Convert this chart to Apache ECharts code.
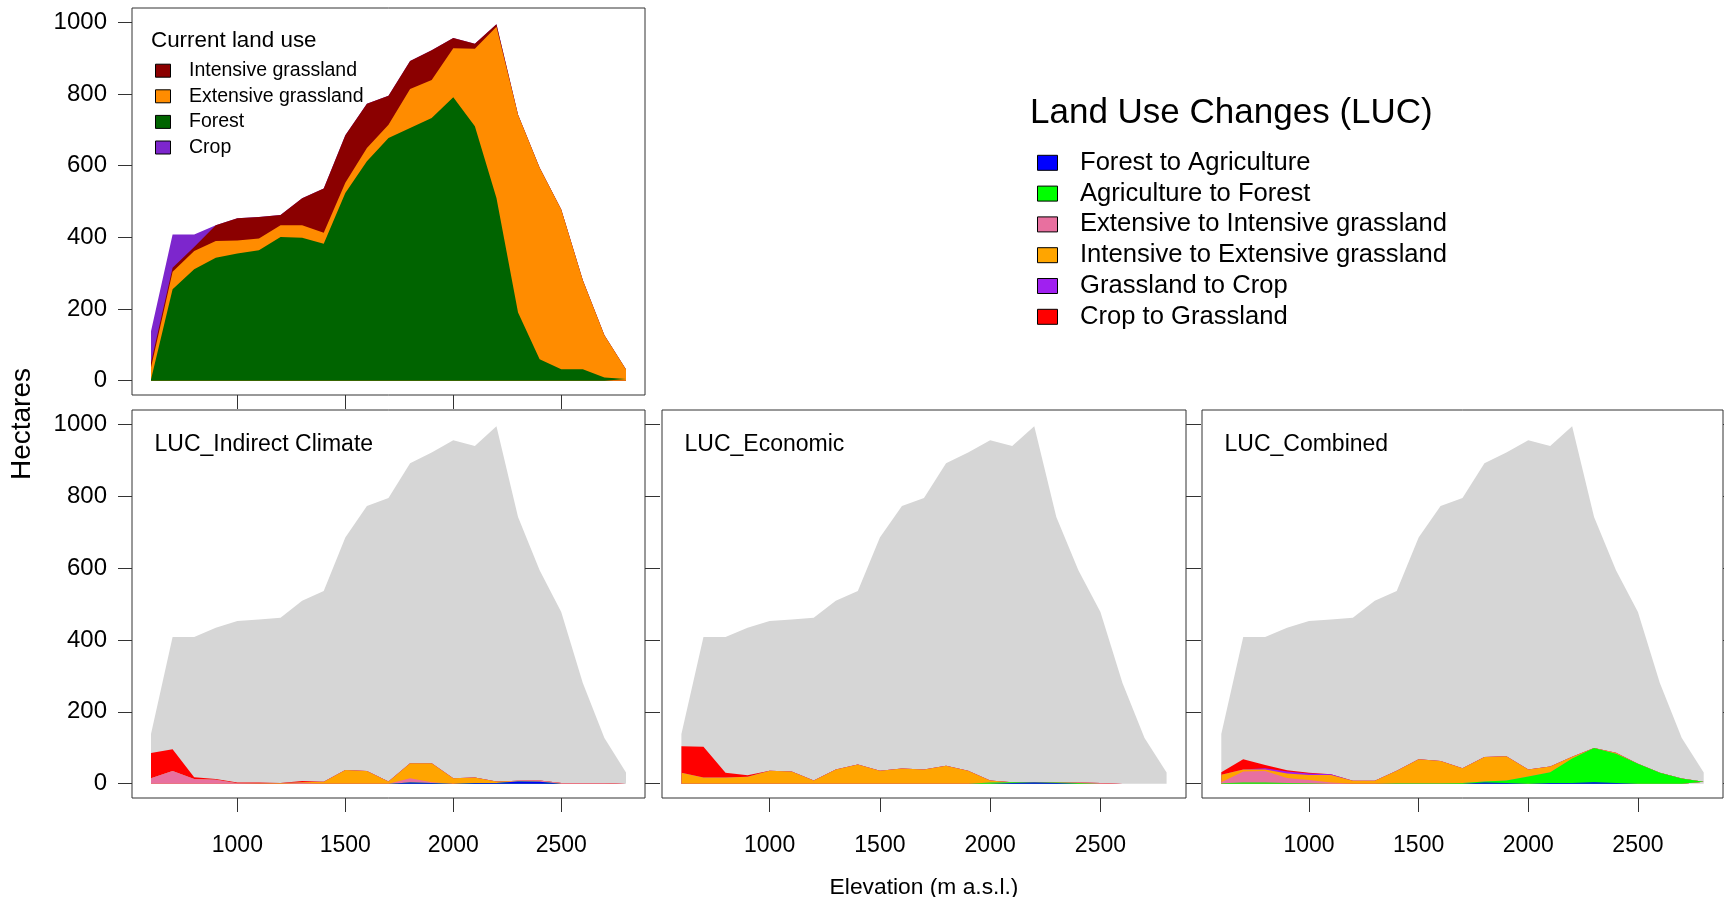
<!DOCTYPE html>
<html>
<head>
<meta charset="utf-8">
<script src="https://cdn.jsdelivr.net/npm/echarts@6/dist/echarts.min.js"></script>
<style>
  html, body { margin: 0; padding: 0; background: #ffffff; }
  #chart { width: 1724px; height: 897px; }
</style>
</head>
<body>
<div id="chart"></div>
<script>
// ---- data (hectares per 100 m elevation band) ----
const elevation = [600, 700, 800, 900, 1000, 1100, 1200, 1300, 1400, 1500, 1600, 1700,
                   1800, 1900, 2000, 2100, 2200, 2300, 2400, 2500, 2600, 2700, 2800];

// current land use, stacked bottom -> top: Forest, Extensive, Intensive, Crop
const forest         = [3, 255, 311, 343, 355, 364, 401, 399, 382, 524, 612, 677, 705, 733, 791, 710, 510, 190, 60, 32, 32, 9, 5];
const extensiveGrass = [34, 49, 51, 47, 36, 33, 33, 35, 31, 28, 37, 37, 109, 106, 137, 216, 478, 552, 534, 446, 248, 118, 26];
const intensiveGrass = [14, 11, 11, 44, 62, 60, 28, 75, 123, 133, 124, 81, 78, 83, 28, 14, 7, 0, 0, 0, 0, 0, 0];
const crop           = [87, 93, 35, 0, 0, 0, 0, 0, 0, 0, 0, 0, 0, 0, 0, 0, 0, 0, 0, 0, 0, 0, 0];

// total area of each band (background of the LUC panels)
const totalArea = [138, 408, 408, 434, 453, 457, 462, 509, 536, 685, 773, 795, 892, 922, 956, 940, 995, 742, 594, 478, 280, 127, 31];

const landUseNames = ['Intensive grassland', 'Extensive grassland', 'Forest', 'Crop'];
const lucNames = ['Forest to Agriculture', 'Agriculture to Forest', 'Extensive to Intensive grassland',
                  'Intensive to Extensive grassland', 'Grassland to Crop', 'Crop to Grassland'];
const panelTitles = ['LUC_Indirect Climate', 'LUC_Economic', 'LUC_Combined'];

// land use changes per scenario, one row per class in lucNames order (stacked in that order)
const lucIndirectClimate = [
  [0, 0, 0, 0, 0, 0, 0, 0, 0, 0, 0, 0, 3, 2, 0, 2, 2, 6, 5, 0, 0, 0, 0],
  [0, 0, 0, 0, 0, 0, 0, 0, 0, 0, 0, 0, 0, 0, 0, 0, 0, 0, 0, 0, 0, 0, 0],
  [15, 35, 13, 11, 1, 0, 0, 2, 0, 0, 0, 0, 12, 2, 0, 0, 0, 2, 4, 2, 2, 2, 0],
  [0, 0, 0, 0, 0, 1, 2, 2, 5, 38, 35, 6, 42, 53, 15, 15, 4, 0, 0, 0, 0, 0, 0],
  [0, 0, 0, 0, 0, 0, 0, 0, 0, 0, 0, 0, 0, 0, 0, 0, 0, 0, 0, 0, 0, 0, 0],
  [70, 61, 5, 2, 2, 2, 0, 3, 0, 0, 0, 0, 0, 0, 0, 0, 0, 0, 0, 0, 0, 0, 0]
];
const lucEconomic = [
  [0, 0, 0, 0, 0, 0, 0, 0, 0, 0, 0, 0, 0, 0, 0, 2, 3, 2, 0, 0, 0, 0, 0],
  [0, 0, 0, 0, 0, 0, 0, 0, 0, 0, 0, 0, 0, 0, 3, 2, 0, 1, 2, 0, 0, 0, 0],
  [0, 0, 0, 0, 0, 0, 0, 0, 0, 0, 0, 0, 0, 0, 0, 0, 0, 0, 1, 2, 0, 0, 0],
  [30, 17, 17, 19, 36, 34, 9, 39, 53, 36, 42, 39, 50, 36, 6, 0, 0, 0, 0, 0, 0, 0, 0],
  [0, 0, 0, 0, 0, 0, 0, 0, 0, 0, 0, 0, 0, 0, 0, 0, 0, 0, 0, 0, 0, 0, 0],
  [74, 86, 13, 4, 0, 0, 0, 0, 0, 0, 0, 0, 0, 0, 0, 0, 0, 0, 0, 0, 0, 0, 0]
];
const lucCombined = [
  [0, 0, 0, 0, 0, 0, 0, 0, 0, 0, 0, 0, 3, 2, 0, 2, 2, 4, 2, 0, 0, 0, 0],
  [1, 3, 3, 2, 1, 0, 0, 0, 1, 1, 1, 2, 3, 7, 20, 30, 68, 95, 81, 55, 30, 14, 5],
  [3, 31, 32, 14, 9, 3, 0, 0, 0, 0, 0, 0, 0, 0, 0, 0, 0, 0, 0, 0, 0, 0, 0],
  [21, 5, 4, 12, 14, 21, 8, 8, 35, 67, 62, 41, 68, 67, 19, 16, 5, 0, 3, 0, 0, 0, 0],
  [0, 0, 4, 6, 4, 2, 0, 0, 0, 0, 0, 0, 0, 0, 0, 0, 0, 0, 0, 0, 0, 0, 0],
  [7, 29, 9, 3, 2, 0, 0, 0, 0, 0, 0, 0, 0, 0, 0, 0, 0, 0, 0, 0, 0, 0, 0]
];

const xTicks = [1000, 1500, 2000, 2500];
const yTicks = [0, 200, 400, 600, 800, 1000];

// ---- styles ----
const FONT = '"Liberation Sans", Arial, Helvetica, sans-serif';
const landUseColors = { 'Intensive grassland': '#8B0000', 'Extensive grassland': '#FF8C00', 'Forest': '#006400', 'Crop': '#7D26CD' };
const lucColors = ['#0000FF', '#00FF00', '#E8709F', '#FFA500', '#A020F0', '#FF0000'];
const greyFill = '#D6D6D6';
const boxColor = '#333333';

// plot boxes (axes padded by 4% of the data range on each side)
const X_MIN = 512, X_MAX = 2888, Y_MIN = -40, Y_MAX = 1040;
const boxes = [
  { left: 132, top: 8, width: 513, height: 387 },    // current land use
  { left: 132, top: 410, width: 513, height: 388 },  // indirect climate
  { left: 662, top: 410, width: 524, height: 388 },  // economic
  { left: 1202, top: 410, width: 521, height: 388 }  // combined
];

const pairs = vals => elevation.map((e, i) => [e, vals[i]]);

// running totals: layer k's upper edge = sum of layers 0..k
function cumulate(layers) {
  const out = [];
  let run = elevation.map(() => 0);
  layers.forEach(vals => { run = run.map((r, i) => r + vals[i]); out.push(run); });
  return out;
}

function areaSeries(name, vals, color, gridIdx, yIdx) {
  return {
    name, type: 'line', xAxisIndex: gridIdx, yAxisIndex: yIdx,
    data: pairs(vals), symbol: 'none', silent: true, smooth: false,
    lineStyle: { width: 0 }, areaStyle: { color, opacity: 1, origin: 0 }, animation: false
  };
}

const grids = boxes.map(b => Object.assign({
  show: true, borderColor: boxColor, borderWidth: 1, backgroundColor: 'transparent',
  containLabel: false, outerBoundsMode: 'none'
}, b));

const xAxes = boxes.map((b, i) => ({
  gridIndex: i, type: 'value', min: X_MIN, max: X_MAX, position: 'bottom',
  axisLine: { show: false, onZero: false },
  splitLine: { show: false },
  axisTick: { show: true, inside: false, length: 14, customValues: xTicks, lineStyle: { color: boxColor, width: 1 } },
  axisLabel: { show: i > 0, customValues: xTicks, margin: 36, fontSize: 23, color: '#000', fontFamily: FONT, formatter: v => String(v) }
}));

const yAxes = [];
const leftAxisIndex = [];
boxes.forEach((b, i) => {
  if (i < 2) {
    leftAxisIndex[i] = yAxes.length;
    yAxes.push({
      gridIndex: i, type: 'value', min: Y_MIN, max: Y_MAX, position: 'left',
      axisLine: { show: false, onZero: false }, splitLine: { show: false },
      axisTick: { show: true, inside: false, length: 14, customValues: yTicks, lineStyle: { color: boxColor, width: 1 } },
      axisLabel: { show: true, customValues: yTicks, margin: 25, fontSize: 24, color: '#000', fontFamily: FONT, formatter: v => String(v) }
    });
  }
  if (i > 0) {
    if (leftAxisIndex[i] === undefined) leftAxisIndex[i] = yAxes.length;
    yAxes.push({
      gridIndex: i, type: 'value', min: Y_MIN, max: Y_MAX, position: 'right',
      axisLine: { show: false, onZero: false }, splitLine: { show: false },
      axisTick: { show: true, inside: false, length: 15, customValues: yTicks, lineStyle: { color: boxColor, width: 1 } },
      axisLabel: { show: false }
    });
  }
});

const series = [];
// current land use: forest at the bottom, crop on top; upper layers drawn first
{
  const order = ['Forest', 'Extensive grassland', 'Intensive grassland', 'Crop'];
  const tops = cumulate([forest, extensiveGrass, intensiveGrass, crop]);
  for (let k = order.length - 1; k >= 0; k--) {
    series.push(areaSeries(order[k], tops[k], landUseColors[order[k]], 0, leftAxisIndex[0]));
  }
}

// LUC panels: grey total area behind the stacked changes
[lucIndirectClimate, lucEconomic, lucCombined].forEach((rows, p) => {
  const g = p + 1;
  series.push(areaSeries('Total', totalArea, greyFill, g, leftAxisIndex[g]));
  const tops = cumulate(rows);
  for (let k = rows.length - 1; k >= 0; k--) {
    series.push(areaSeries(lucNames[k], tops[k], lucColors[k], g, leftAxisIndex[g]));
  }
});

// ---- text and legends ----
const graphic = [];
const txt = (text, x, y, size, align) => ({
  type: 'text', x, y, silent: true, z: 100,
  style: { text, fontSize: size, fontFamily: FONT, fill: '#000', align: align || 'left', verticalAlign: 'middle' }
});

// current land use legend
graphic.push(txt('Current land use', 151, 41, 22.4));
landUseNames.forEach((name, k) => {
  const cy = 70.7 + k * 25.6;
  graphic.push({ type: 'rect', silent: true, z: 100, shape: { x: 155.5, y: cy - 6.5, width: 15, height: 13 },
    style: { fill: landUseColors[name], stroke: '#000', lineWidth: 1 } });
  graphic.push(txt(name, 189, cy, 19.5));
});

// land use change legend
graphic.push(txt('Land Use Changes (LUC)', 1030, 113.5, 35));
lucNames.forEach((name, k) => {
  const cy = 162.8 + k * 30.8;
  graphic.push({ type: 'rect', silent: true, z: 100, shape: { x: 1037.5, y: cy - 7.5, width: 20, height: 15 },
    style: { fill: lucColors[k], stroke: '#000', lineWidth: 1 } });
  graphic.push(txt(name, 1080, cy, 25.6));
});

// panel titles
panelTitles.forEach((t, p) => graphic.push(txt(t, boxes[p + 1].left + 22.5, 445, 23)));

// axis titles
graphic.push(txt('Elevation (m a.s.l.)', 924, 888, 22.8, 'center'));
graphic.push({ type: 'text', x: 22, y: 424, rotation: Math.PI / 2, silent: true, z: 100,
  style: { text: 'Hectares', fontSize: 28, fontFamily: FONT, fill: '#000', align: 'center', verticalAlign: 'middle' } });

const chart = echarts.init(document.getElementById('chart'), null, { renderer: 'canvas' });
chart.setOption({
  animation: false,
  backgroundColor: '#ffffff',
  grid: grids,
  xAxis: xAxes,
  yAxis: yAxes,
  series,
  graphic
});
</script>
</body>
</html>
